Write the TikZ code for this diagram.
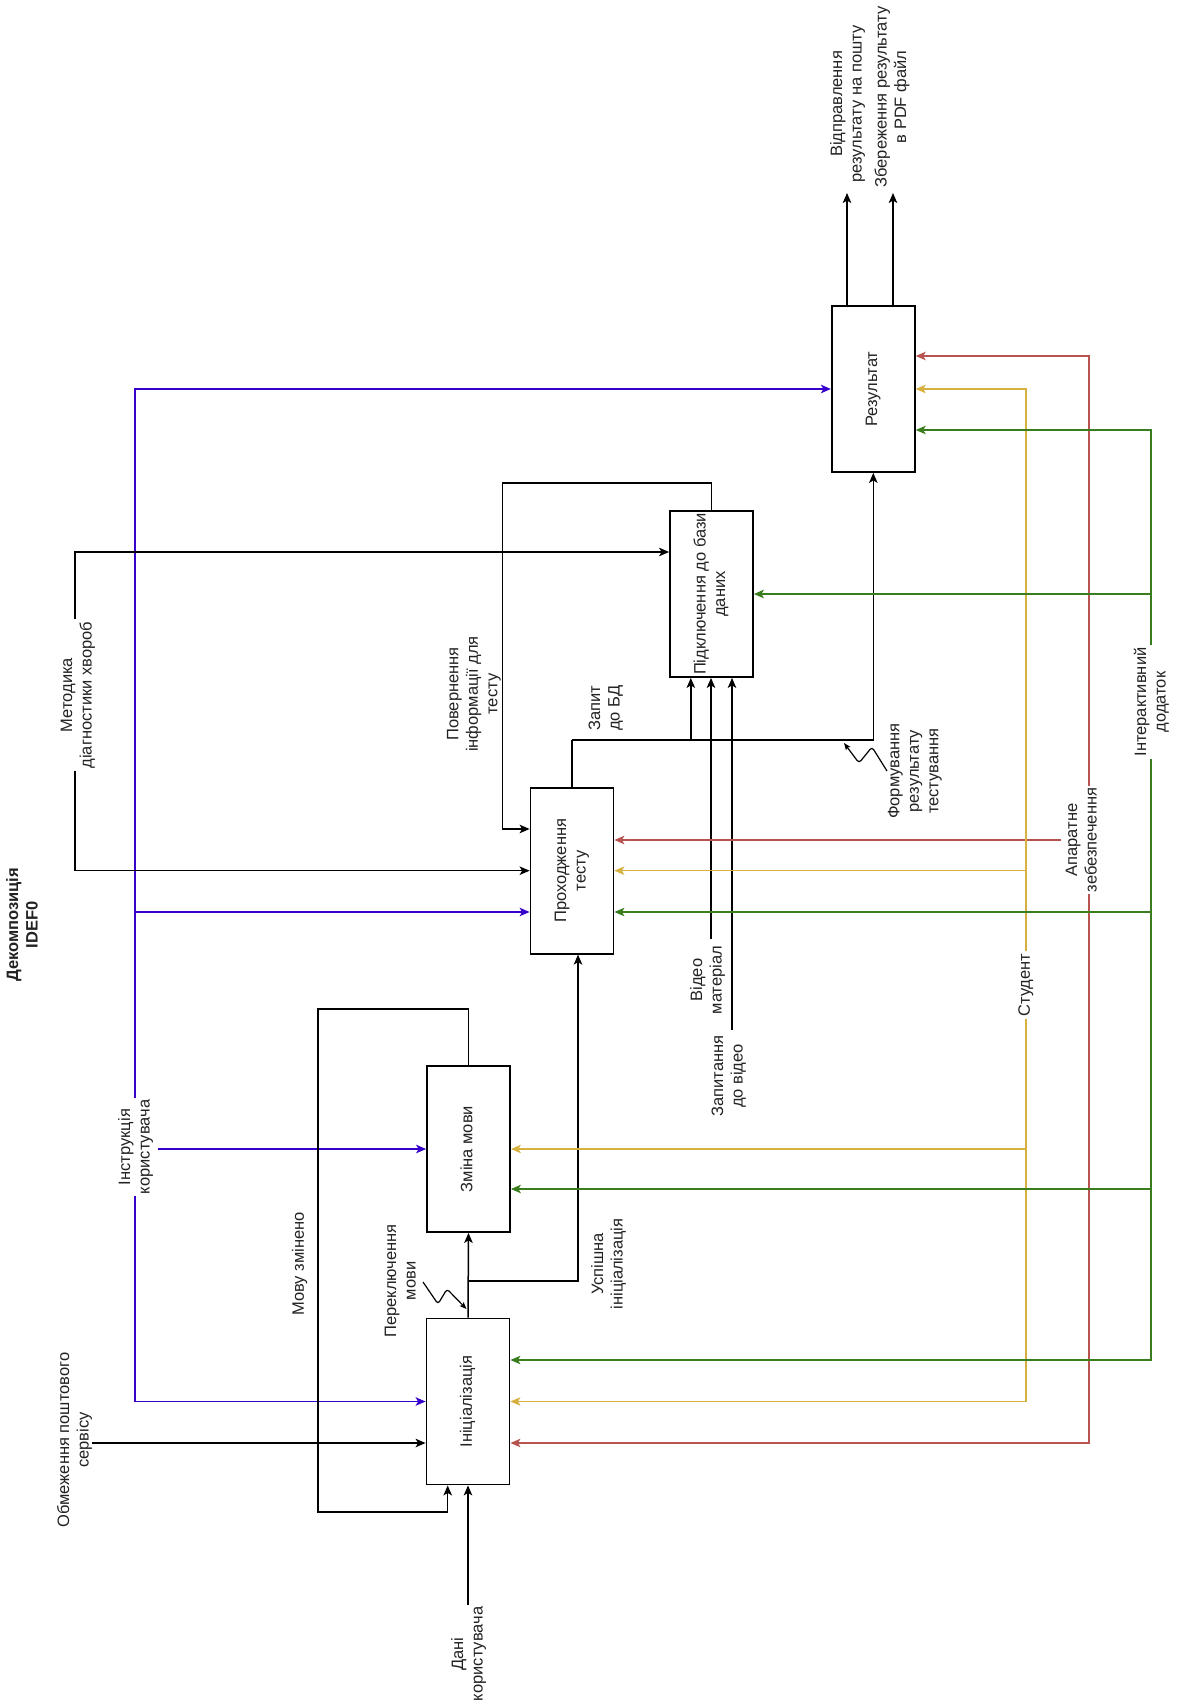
\documentclass[tikz,border=0pt]{standalone}
\usepackage{fontspec}
\setmainfont{Liberation Sans}
\usepackage{graphicx}
\usetikzlibrary{arrows.meta,calc}

\definecolor{cPurple}{HTML}{3700CC}
\definecolor{cRed}{HTML}{B85450}
\definecolor{cYellow}{HTML}{D6B13F}
\definecolor{cGreen}{HTML}{3A7D1C}
\definecolor{cText}{HTML}{222222}

% text set bottom-to-top, lines stacked left to right
\newcommand{\vtext}[1]{\rotatebox{90}{\begin{tabular}{@{}c@{}}#1\end{tabular}}}

\begin{document}
\begin{tikzpicture}[x=1pt,y=-1pt,
  font=\fontsize{16.5}{19.5}\selectfont,
  tip/.style={-{Stealth[length=10pt,width=8.5pt,inset=2.5pt]}},
  smalltip/.style={-{Stealth[length=7pt,width=5.5pt,inset=1.5pt]}},
  blk/.style={draw=black,line width=1.5pt},
  purp/.style={draw=cPurple,line width=1.3pt},
  redl/.style={draw=cRed,line width=1.3pt},
  yel/.style={draw=cYellow,line width=1.3pt},
  grn/.style={draw=cGreen,line width=1.3pt},
  squig/.style={draw=black,line width=1.2pt,rounded corners=3pt},
  fbox/.style={draw=black,line width=1.8pt,minimum width=83pt,minimum height=166pt,inner sep=0pt,text=cText},
  lbl/.style={inner sep=2pt,text=cText},
]
\useasboundingbox (0,0) rectangle (1181,1707);
\fill[white] (0,0) rectangle (1181,1707);

% function blocks
\node[fbox] (init) at (468,1401.5) {\vtext{Ініціалізація}};
\node[fbox] (lang) at (468.5,1149) {\vtext{Зміна мови}};
\node[fbox] (test) at (572,870.7) {\vtext{Проходження\\тесту}};
\node[fbox] (db)   at (711.5,594) {\vtext{Підключення до бази\\даних}};
\node[fbox] (res)  at (873.3,389) {\vtext{Результат}};

% arrow labels
\node[lbl,font=\fontsize{16.5}{19.5}\selectfont\bfseries] (lTitle) at (24,925) {\vtext{Декомпозиція\\IDEF0}};
\node[lbl] (lOut1)    at (848,104)   {\vtext{Відправлення\\результату на пошту}};
\node[lbl] (lOut2)    at (892.5,97)  {\vtext{Збереження результату\\в PDF файл}};
\node[lbl] (lMet)     at (78,695)    {\vtext{Методика\\діагностики хвороб}};
\node[lbl] (lInstr)   at (136,1147)  {\vtext{Інструкція\\користувача}};
\node[lbl] (lPost)    at (75,1440)   {\vtext{Обмеження поштового\\сервісу}};
\node[lbl] (lRet)     at (474,694)   {\vtext{Повернення\\інформації для\\тесту}};
\node[lbl] (lQuery)   at (606,708)   {\vtext{Запит\\до БД}};
\node[lbl] (lForm)    at (915,771)   {\vtext{Формування\\результату\\тестування}};
\node[lbl] (lVideo)   at (708,980)   {\vtext{Відео\\матеріал}};
\node[lbl] (lQuest)   at (729,1076)  {\vtext{Запитання\\до відео}};
\node[lbl] (lHw)      at (1083,840)  {\vtext{Апаратне\\зебезпечення}};
\node[lbl] (lStud)    at (1026,985)  {\vtext{Студент}};
\node[lbl] (lApp)     at (1152,702)  {\vtext{Інтерактивний\\додаток}};
\node[lbl] (lSucc)    at (609,1264)  {\vtext{Успішна\\ініціалізація}};
\node[lbl] (lSwitch)  at (402,1281)  {\vtext{Переключення\\мови}};
\node[lbl] (lChanged) at (300,1264)  {\vtext{Мову змінено}};
\node[lbl] (lUser)    at (469,1654)  {\vtext{Дані\\користувача}};

% junction points
\coordinate (pTop) at (135,389);
\coordinate (pMid) at (135,912);
\coordinate (pBot) at (135,1401.5);
\coordinate (mTop) at (75,552);
\coordinate (mBot) at (75,870.7);
\coordinate (oP)   at (92,1443);
\coordinate (rt2)  at (502.5,483);
\coordinate (rt3)  at (502.5,829);
\coordinate (fb1)  at (318,1009);
\coordinate (fb2)  at (318,1512);
\coordinate (fb3)  at (447.7,1512);
\coordinate (sc1)  at (468,1281);
\coordinate (sc2)  at (578,1281);
\coordinate (q1)   at (572,740);
\coordinate (q2)   at (res.south |- q1);
\coordinate (q3)   at (690.8,740);
\coordinate (vx)   at (711,939);
\coordinate (qx)   at (732,1030);
\coordinate (o1)   at (847,193);
\coordinate (o2)   at (893,193);
\coordinate (rA)   at (1089,356);
\coordinate (rD)   at (1089,1443);
\coordinate (yA)   at (1026,389);
\coordinate (yD)   at (init.east -| yA);
\coordinate (gA)   at (1151,430);
\coordinate (gDb)  at (db.east -| gA);
\coordinate (gT)   at (1151,912);
\coordinate (gL)   at (1151,1189);
\coordinate (gE)   at (1151,1360);
\coordinate (sw0)  at (423,1282);
\coordinate (sw1)  at (438,1304);
\coordinate (sw2)  at (447,1289);
\coordinate (sw3)  at (466.5,1309);
\coordinate (fr0)  at (887,771);
\coordinate (fr1)  at (872,747);
\coordinate (fr2)  at (859,763);
\coordinate (fr3)  at (844,743);

% user instruction (purple)
\draw[purp,tip] (lInstr.north -| pTop) -- (pTop) -- (pTop -| res.west);
\draw[purp,tip] (pMid) -- (pMid -| test.west);
\draw[purp,tip] (lInstr.south -| pBot) -- (pBot) -- (init.west);
\draw[purp,tip] (lInstr.east |- lang.west) -- (lang.west);

% method of diagnostics
\draw[blk,tip] (lMet.north -| mTop) -- (mTop) -- (mTop -| db.west);
\draw[blk,tip] (lMet.south -| mBot) -- (mBot) -- (test.west);

% mail service limits
\draw[blk,tip] (oP) -- (oP -| init.west);

% data returned for the test
\draw[blk,tip] (db.north) |- (rt2) -- (rt3) -- (rt3 -| test.west);

% language changed feedback
\draw[blk,tip] (lang.north) |- (fb1) -- (fb2) -- (fb3) -- (fb3 |- init.south);

% initialisation outputs
\draw[blk,tip] (init.north) -- (lang.south);
\draw[blk,tip] (sc1) -- (sc2) -- (sc2 |- test.south);
\draw[blk,tip] (lUser.north -| init.south) -- (init.south);

% database query and result forming
\draw[blk,tip] (test.north |- q1) -- (q2) -- (res.south);
\draw[blk] (test.north) -- (test.north |- q1);
\draw[blk,tip] (q3) -- (q3 |- db.south);
\draw[blk,tip] (vx) -- (vx |- db.south);
\draw[blk,tip] (qx) -- (qx |- db.south);

% result outputs
\draw[blk,tip] (res.north -| o1) -- (o1);
\draw[blk,tip] (res.north -| o2) -- (o2);

% squiggles tying labels to their arrows
\draw[squig,smalltip] (sw0) -- (sw1) -- (sw2) -- (sw3);
\draw[squig,smalltip] (fr0) -- (fr1) -- (fr2) -- (fr3);

% hardware (red)
\draw[redl,tip] (lHw.north -| rA) -- (rA) -- (rA -| res.east);
\draw[redl,tip] (lHw.south -| rD) -- (rD) -- (rD -| init.east);
\draw[redl,tip] (lHw.west) -- (lHw.west -| test.east);

% student (yellow)
\draw[yel,tip] (lStud.north -| yA) -- (yA) -- (res.east);
\draw[yel,tip] (test.east -| yA) -- (test.east);
\draw[yel,tip] (lang.east -| yA) -- (lang.east);
\draw[yel,tip] (lStud.south -| yD) -- (yD) -- (init.east);

% interactive application (green)
\draw[grn,tip] (lApp.north -| gA) -- (gA) -- (gA -| res.east);
\draw[grn,tip] (gDb) -- (db.east);
\draw[grn,tip] (gT) -- (gT -| test.east);
\draw[grn,tip] (gL) -- (gL -| lang.east);
\draw[grn,tip] (lApp.south -| gE) -- (gE) -- (gE -| init.east);
\end{tikzpicture}
\end{document}
